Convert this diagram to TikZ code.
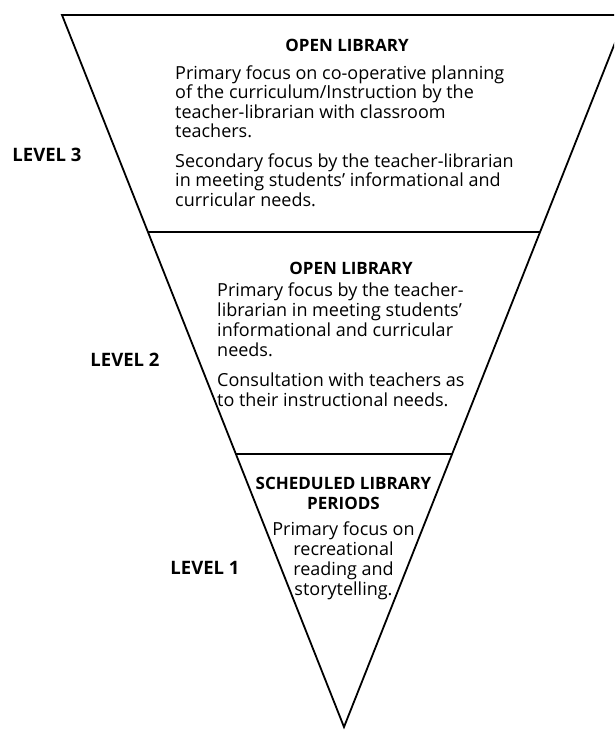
\documentclass[tikz,border=0pt]{standalone}
\usepackage{fontspec}
\setmainfont{Open Sans}
\usetikzlibrary{calc}

\tikzset{
  level/.style={font=\fontsize{18.5}{20}\selectfont\bfseries},
  head/.style={font=\fontsize{17}{20}\selectfont\bfseries,align=center},
  body/.style={font=\fontsize{18}{19.5}\selectfont,align=left,anchor=north west},
  cbody/.style={font=\fontsize{18}{20}\selectfont,align=center,anchor=north},
  edge/.style={line width=1.8pt,line join=miter}
}

\begin{document}
\begin{tikzpicture}[x=1pt,y=1pt]
\tikzstyle{every node}+=[inner sep=0pt]
\useasboundingbox (0,0) rectangle (614,-730);
\coordinate (tl) at (62,-15);
\coordinate (tr) at (626,-15);
\coordinate (apex) at (344,-727);
\begin{scope}
\clip (0,0) rectangle (614,-730);
\draw [edge] (tl) -- (tr) -- (apex) -- cycle;
\end{scope}
\draw [edge] ($(tl)!0.3048!(apex)$) -- ($(tr)!0.3048!(apex)$);
\draw [edge] ($(tl)!0.6166!(apex)$) -- ($(tr)!0.6166!(apex)$);
\node [head] (open3) at (347,-45) {OPEN LIBRARY};
\node [body] (focus3) at (175,-65.5) {Primary focus on co-operative planning\\of the curriculum/Instruction by the\\teacher-librarian with classroom\\teachers.\\[10pt]Secondary focus by the teacher-librarian\\in meeting students' informational and\\curricular needs.};
\node [head] (open2) at (351,-268) {OPEN LIBRARY};
\node [body,font=\fontsize{18}{20}\selectfont] (focus2) at (217,-283) {Primary focus by the teacher-\\librarian in meeting students'\\informational and curricular\\needs.\\[10pt]Consultation with teachers as\\to their instructional needs.};
\node [head,anchor=north] (sched1) at (343.5,-477) {SCHEDULED LIBRARY\\PERIODS};
\node [cbody] (focus1) at (343.5,-522) {Primary focus on\\recreational\\reading and\\storytelling.};
\node [level] (lev3) at (47,-155) {LEVEL 3};
\node [level] (lev2) at (125,-360) {LEVEL 2};
\node [level] (lev1) at (205,-568) {LEVEL 1};
\end{tikzpicture}
\end{document}
